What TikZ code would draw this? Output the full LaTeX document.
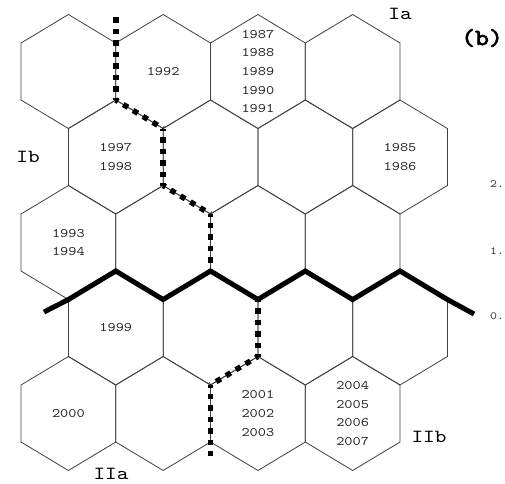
\documentclass[tikz,border=0pt]{standalone}
\usepackage{fontspec}
\setmainfont{Liberation Mono}
\newfontfamily\cmono[FakeStretch=1.2]{lmmono10-regular.otf}
\newfontfamily\cmonob[FakeStretch=1.15,FakeBold=3]{lmmono10-regular.otf}
\usetikzlibrary{calc}
\begin{document}
\begin{tikzpicture}[x=1pt,y=-1pt,
  hexline/.style={draw=black!75,line width=0.8pt},
  yr/.style={font=\cmono\fontsize{13}{18.7}\selectfont,align=center,text=black!85,inner sep=0pt},
  lbl/.style={font=\cmono\fontsize{18.5}{18.5}\selectfont,inner sep=0pt},
  tick/.style={font=\cmono\fontsize{11}{11}\selectfont,inner sep=0pt,text=black!80},
  sq/.style={line width=5.5pt,dash pattern=on 5.5pt off 6pt,dash phase=2.75pt},
  border/.style={line width=5pt,line join=miter}]
\useasboundingbox (0,0) rectangle (505,483);
% hexagonal grid
\foreach \r in {1,...,5}{
  \foreach \c in {1,...,4}{
    \pgfmathsetmacro\cx{68.4+94.75*(\c-1)+47.375*(1-mod(\r,2))}
    \pgfmathsetmacro\cy{71.5+85.5*(\r-1)}
    \coordinate (h\r\c) at (\cx,\cy);
    \draw[hexline] (\cx,\cy-57) -- ++(47.375,28.5) -- ++(0,57) -- ++(-47.375,28.5)
      -- ++(-47.375,-28.5) -- ++(0,-57) -- cycle;
  }
}
% year labels
\node[yr] (t12) at (h12) {1992};
\node[yr] (t13) at (h13) {1987\\1988\\1989\\1990\\1991};
\node[yr] (t21) at (h21) {1997\\1998};
\node[yr] (t24) at (h24) {1985\\1986};
\node[yr] (t31) at (h31) {1993\\1994};
\node[yr] (t41) at (h41) {1999};
\node[yr] (t51) at (h51) {2000};
\node[yr] (t53) at (h53) {2001\\2002\\2003};
\node[yr] (t54) at (h54) {2004\\2005\\2006\\2007};
% region labels
\node[lbl] (Ia) at (400,14) {Ia};
\node[lbl] (Ib) at (28,157) {Ib};
\node[lbl] (IIa) at (111,474) {IIa};
\node[lbl] (IIb) at (429,437) {IIb};
\node[font=\cmonob\fontsize{23}{23}\selectfont,inner sep=0pt] (b) at (482,38) {(b)};
\node[tick] (k2) at (497,184) {2.};
\node[tick] (k1) at (497,251) {1.};
\node[tick] (k0) at (497,316) {0.};
% dotted boundaries
\coordinate (d1) at (115.75,16);
\coordinate (d2) at (115.75,43);
\coordinate (d3) at (115.75,100);
\coordinate (d4) at (163.1,128.5);
\coordinate (d5) at (163.1,185.5);
\coordinate (d6) at (210.5,214);
\coordinate (d7) at (210.5,271);
\coordinate (e1) at (257.9,299.5);
\coordinate (e2) at (257.9,356.5);
\coordinate (e3) at (210.5,385);
\coordinate (e4) at (210.5,442);
\coordinate (e5) at (210.5,461);
\draw[sq] (d2) -- (d1);
\draw[sq] (d2) -- (d3);
\draw[sq] (d3) -- (d4);
\draw[sq] (d4) -- (d5);
\draw[sq] (d5) -- (d6);
\draw[sq] (d6) -- (d7);
\draw[sq] (e1) -- (e2);
\draw[sq] (e2) -- (e3);
\draw[sq] (e3) -- (e4);
\draw[sq] (e4) -- (e5);
% solid boundary
\coordinate (s0) at (44,312);
\coordinate (s1) at (68.4,299.5);
\coordinate (s2) at (115.75,271);
\coordinate (s3) at (163.1,299.5);
\coordinate (s4) at (210.5,271);
\coordinate (s5) at (257.9,299.5);
\coordinate (s6) at (305.25,271);
\coordinate (s7) at (352.6,299.5);
\coordinate (s8) at (400,271);
\coordinate (s9) at (447.4,299.5);
\coordinate (s10) at (474,314);
\draw[border] (s0) -- (s1) -- (s2) -- (s3) -- (s4) -- (s5) -- (s6) -- (s7) -- (s8) -- (s9) -- (s10);
\end{tikzpicture}
\end{document}
